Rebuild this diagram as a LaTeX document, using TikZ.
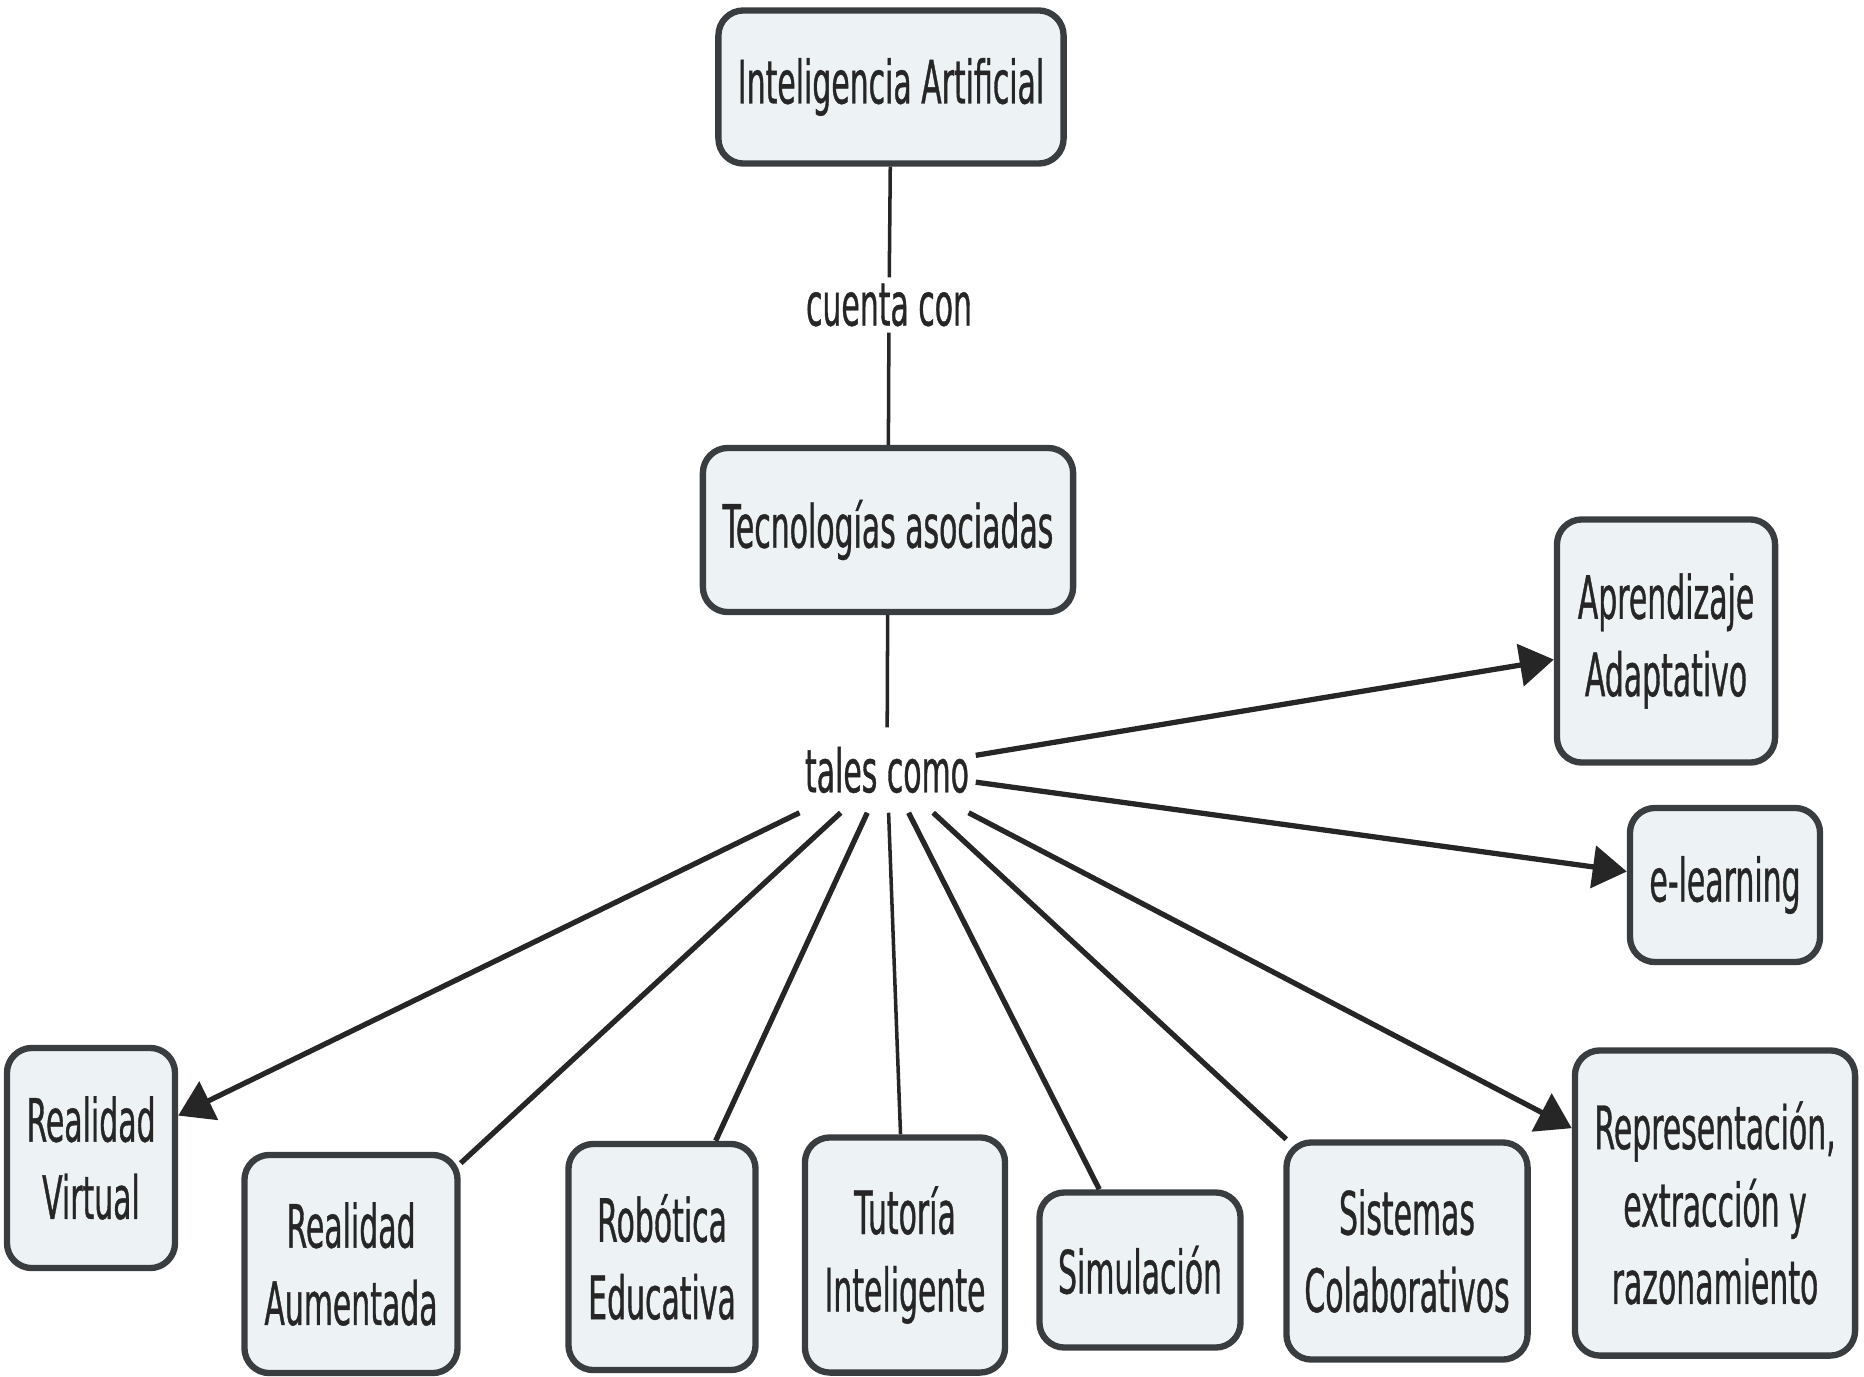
\documentclass[tikz,border=0pt]{standalone}
\usepackage{fontspec}
\setmainfont{DejaVu Sans}[FakeStretch=0.5,FakeBold=0.6]
\usetikzlibrary{arrows.meta}
\definecolor{boxfill}{HTML}{EDF2F4}
\definecolor{boxline}{HTML}{3A3D40}
\definecolor{linkcol}{HTML}{262626}
\tikzset{
  box/.style={draw=boxline, line width=1.8pt, fill=boxfill, rounded corners=0.25cm,
    align=center, inner sep=0pt, text=black!85,
    font=\fontsize{17pt}{22pt}\selectfont},
  lbl/.style={inner sep=0pt, text=black!85, align=center,
    font=\fontsize{17pt}{22pt}\selectfont},
  link/.style={draw=linkcol, line width=1.5pt},
  vlink/.style={draw=linkcol, line width=1pt},
  tip/.style={-{Triangle[length=0.34cm,width=0.42cm]}}
}
\begin{document}
\begin{tikzpicture}[x=0.01cm,y=-0.01cm]
\useasboundingbox (0,0) rectangle (1864,1376);
% nodes
\node[box, minimum width=3.45cm, minimum height=1.53cm] (ia) at (891,87) {Inteligencia Artificial};
\node[lbl, minimum width=1.7cm, minimum height=0.54cm] (cc) at (889,305) {cuenta con};
\node[box, minimum width=3.70cm, minimum height=1.64cm] (ta) at (888,530) {Tecnologías asociadas};
\node[lbl, minimum width=1.76cm, minimum height=0.84cm] (tc) at (887,770) {tales como};
\node[box, minimum width=2.18cm, minimum height=2.43cm] (aa) at (1666,641) {Aprendizaje\\Adaptativo};
\node[box, minimum width=1.90cm, minimum height=1.54cm] (el) at (1725,885) {e-learning};
\node[box, minimum width=1.68cm, minimum height=2.20cm] (rv) at (91,1158) {Realidad\\Virtual};
\node[box, minimum width=2.13cm, minimum height=2.18cm] (ra) at (351,1264) {Realidad\\Aumentada};
\node[box, minimum width=1.87cm, minimum height=2.26cm] (re) at (662,1257) {Robótica\\Educativa};
\node[box, minimum width=2.00cm, minimum height=2.35cm] (ti) at (905,1255) {Tutoría\\Inteligente};
\node[box, minimum width=2.01cm, minimum height=1.55cm] (si) at (1140,1270) {Simulación};
\node[box, minimum width=2.41cm, minimum height=2.17cm] (sc) at (1407,1251) {Sistemas\\Colaborativos};
\node[box, minimum width=2.80cm, minimum height=3.05cm] (rp) at (1715,1203) {Representación,\\extracción y\\razonamiento};
% connectors
\draw[vlink] (ia) -- (cc);
\draw[vlink] (cc) -- (ta);
\draw[vlink] (ta) -- (tc);
\draw[link, tip] (tc) -- (aa);
\draw[link, tip] (tc) -- (el);
\draw[link, tip] (tc) -- (rp);
\draw[link, tip] (tc) -- (rv);
\draw[link] (tc) -- (ra);
\draw[link] (tc) -- (re);
\draw[vlink] (tc) -- (ti);
\draw[link] (tc) -- (si);
\draw[link] (tc) -- (sc);
\end{tikzpicture}
\end{document}
